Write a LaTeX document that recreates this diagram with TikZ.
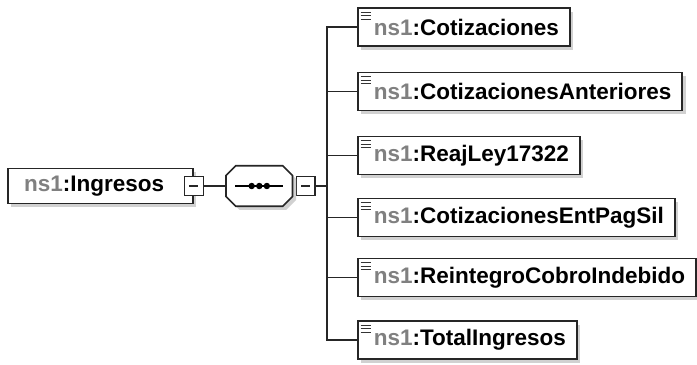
\documentclass[tikz,border=0pt]{standalone}
\usepackage{fontspec}
\setmainfont{Liberation Sans}
\usetikzlibrary{positioning,shadows}
\definecolor{nsgray}{RGB}{128,128,128}
\newcommand{\nsname}[1]{{\color{nsgray}ns1}:#1}

\begin{document}
\begin{tikzpicture}[x=0.025cm, y=-0.025cm, node distance=5mm,
  every node/.style={font=\fontsize{16}{18}\selectfont\bfseries},
  boxshadow/.style={drop shadow={shadow xshift=2.5pt, shadow yshift=-2.5pt, fill=black!18, opacity=1}},
  rootbox/.style={rectangle, draw=black!85, line width=1.3pt, fill=white, minimum width=4.625cm, minimum height=0.875cm, boxshadow},
  elem/.style={rectangle, draw=black!85, line width=1.3pt, fill=white, minimum height=0.95cm, inner xsep=7.8pt, anchor=west, boxshadow,
    path picture={
      \foreach \dy in {3pt,5.5pt,8pt}
        \draw[line width=1pt, black!80] ([xshift=2pt, yshift=-\dy]path picture bounding box.north west) -- ++(7pt,0);
    }},
  minusbox/.style={rectangle, draw=black!85, line width=1pt, fill=white, minimum size=0.47cm, inner sep=0pt,
    path picture={\draw[line width=0.9pt] ([xshift=1.2mm]path picture bounding box.west) -- ([xshift=-1.2mm]path picture bounding box.east);}},
  seqbox/.style={rectangle, minimum width=1.65cm, minimum height=1cm, inner sep=0pt},
  seqline/.style={draw=black!85, line width=1.2pt, fill=white, boxshadow},
  link/.style={line width=1.1pt, black!85}]
  \useasboundingbox (0,0) rectangle (697,364);

  % root element and sequence
  \node[rootbox, anchor=west] (root) at (7,186) {\nsname{Ingresos}\hspace*{9pt}};
  \node[minusbox] (rootm) at (root.east) {};
  \node[seqbox, right=0.55cm of rootm] (seq) {};
  \node[minusbox, right=0.075cm of seq] (seqm) {};
  \coordinate (bus) at (327,186);

  \path[seqline] ([yshift=-7pt]seq.north west) -- ([xshift=7pt]seq.north west)
    -- ([xshift=-7pt]seq.north east) -- ([yshift=-7pt]seq.north east)
    -- ([yshift=7pt]seq.south east) -- ([xshift=-7pt]seq.south east)
    -- ([xshift=7pt]seq.south west) -- ([yshift=7pt]seq.south west) -- cycle;
  \draw[line width=1.1pt] ([xshift=-0.6cm]seq.center) -- ([xshift=0.6cm]seq.center);
  \fill ([xshift=-0.19cm]seq.center) circle (2.3pt);
  \fill (seq.center) circle (2.3pt);
  \fill ([xshift=0.19cm]seq.center) circle (2.3pt);

  % child elements
  \node[elem] (cot) at (357,27) {\hspace*{3.5pt}\nsname{Cotizaciones}};
  \node[elem] (cotant) at (357,91.5) {\hspace*{3.5pt}\nsname{CotizacionesAnteriores}};
  \node[elem] (reaj) at (357,155.5) {\hspace*{3.5pt}\nsname{ReajLey17322}};
  \node[elem] (cotent) at (357,217.5) {\hspace*{3.5pt}\nsname{CotizacionesEntPagSil}};
  \node[elem] (reint) at (357,277.5) {\hspace*{3.5pt}\nsname{ReintegroCobroIndebido}};
  \node[elem] (total) at (357,340) {\hspace*{3.5pt}\nsname{TotalIngresos}};

  \draw[link] (rootm) -- (seq.west);
  \draw[link] (seqm) -- (bus);
  \draw[link] (bus) |- (cot.west);
  \draw[link] (bus) |- (cotant.west);
  \draw[link] (bus) |- (reaj.west);
  \draw[link] (bus) |- (cotent.west);
  \draw[link] (bus) |- (reint.west);
  \draw[link] (bus) |- (total.west);
\end{tikzpicture}
\end{document}
